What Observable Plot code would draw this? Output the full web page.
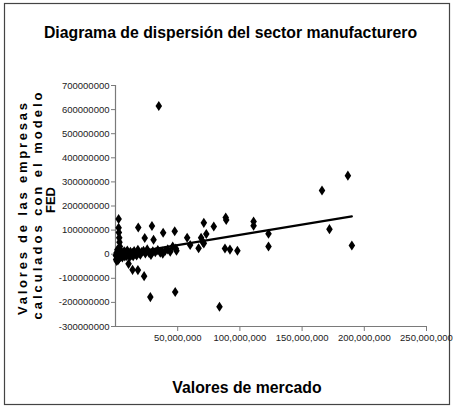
<!DOCTYPE html>
<html>
<head>
<meta charset="utf-8">
<script src="https://cdn.jsdelivr.net/npm/d3@7"></script>
<script src="https://cdn.jsdelivr.net/npm/@observablehq/plot@0.6"></script>
<style>
  html, body { margin: 0; padding: 0; background: white; }
</style>
</head>
<body>
<div id="chart"></div>
<script>
// Market value (x) and FED model value (y), in millions
const marketValues = [
  34.8, 2.5, 2.5, 2.7, 3.0, 3.2, 3.5, 2.6,
  18.3, 23.5, 29.3, 30.6, 38.3, 37.5, 38.0, 47.6, 48.5, 49.0, 57.6, 60.0,
  66.8, 68.8, 70.2, 71.0, 71.0, 73.0, 79.0, 88.0, 88.6, 89.0, 92.0, 98.0,
  111.0, 111.0, 123.0, 123.0, 166.0, 172.0, 186.8, 190.0,
  10.5, 13.7, 18.0, 23.0, 28.0, 48.0, 83.6,
  0.3, 0.5, 0.8, 1.0, 1.2, 1.5, 1.8, 2.0, 2.2, 2.5, 3.0, 3.3, 3.6, 4.0, 4.4, 4.8,
  5.2, 5.5, 6.0, 6.5, 7.0, 7.5, 8.0, 8.5, 9.0, 9.5, 10.0, 10.8, 11.5, 12.0, 12.8,
  13.5, 14.2, 15.0, 16.0, 17.0, 18.0, 19.0, 20.0, 21.0, 22.5, 24.0, 25.5, 27.0,
  28.5, 30.0, 32.0, 34.0, 36.0, 40.0, 42.0, 44.0, 46.0
];
const fedValues = [
  615, 146, 110, 90, 68, 50, 32, 21,
  111, 67, 117, 60, 89, 11, 2, 95, 24, 14, 68, 38,
  25, 68, 50, 130, 45, 84, 115, 24, 152, 142, 19, 14,
  136, 118, 85, 32, 264, 104, 326, 36,
  -40, -65, -66, -91, -178, -157, -218,
  -5, -22, 5, -28, 0, 18, -8, -25, 3, -12, -18, 8, -3, -10, 14, -6,
  2, -14, 6, -4, 12, -9, 0, 9, -7, 15, -2, 4, -11, 10, -3,
  6, -8, 13, 1, -5, 18, 4, -2, 9, 14, 3, 20, 5,
  -3, 12, 8, 17, 6, 14, 20, 10, 32
];
// Linear trend line, millions
const trendX = [0, 190];
const trendY = [-5, 157];

const yTicks = [-300, -200, -100, 0, 100, 200, 300, 400, 500, 600, 700].map(v => v * 1e6);
const xTicks = [50, 100, 150, 200, 250].map(v => v * 1e6);

const titleText = "Diagrama de dispersión del sector manufacturero";
const xLabel = "Valores de mercado";
const yLabelLines = ["Valores de las empresas", "calculados con el modelo", "FED"];

const points = marketValues.map((m, i) => ({x: m * 1e6, y: fedValues[i] * 1e6}));
const trend = trendX.map((m, i) => ({x: m * 1e6, y: trendY[i] * 1e6}));

const tallDiamond = {
  draw(context, size) {
    const r = Math.sqrt(size / Math.PI);
    const w = r * 0.78, h = r * 1.2;
    context.moveTo(0, -h);
    context.lineTo(w, 0);
    context.lineTo(0, h);
    context.lineTo(-w, 0);
    context.closePath();
  }
};

const fmtComma = d3.format(",");
const font = "'Liberation Sans', Arial, sans-serif";

const chart = Plot.plot({
  width: 455,
  height: 409,
  marginLeft: 115,
  marginRight: 29,
  marginTop: 85,
  marginBottom: 83,
  x: {domain: [0, 250e6]},
  y: {domain: [-300e6, 700e6]},
  style: {fontFamily: font, fontSize: "9.5px", background: "white", color: "#222"},
  marks: [
    Plot.ruleY([-300e6], {stroke: "#7a7a7a", strokeWidth: 1.2}),
    Plot.ruleX([0], {stroke: "#7a7a7a", strokeWidth: 1.2}),
    Plot.axisY({ticks: yTicks, tickSize: 4, tickPadding: 2, tickFormat: d => String(d), label: null, stroke: "#7a7a7a", fill: "#222"}),
    Plot.axisX({ticks: xTicks, tickSize: 5, tickPadding: 3, tickFormat: d => fmtComma(d), label: null, stroke: "#7a7a7a", fill: "#222"}),
    Plot.line(trend, {x: "x", y: "y", stroke: "black", strokeWidth: 2.2}),
    Plot.dot(points, {x: "x", y: "y", symbol: tallDiamond, r: 4.2, fill: "black", stroke: "none"})
  ]
});

const svg = d3.select(chart);
svg.insert("rect", ":first-child")
  .attr("x", 4.5).attr("y", 3.5).attr("width", 445).attr("height", 401)
  .attr("fill", "white").attr("stroke", "#444").attr("stroke-width", 1.2);

svg.append("text")
  .attr("x", 230.5).attr("y", 37.5)
  .attr("text-anchor", "middle")
  .style("font", `bold 15.8px ${font}`)
  .attr("fill", "black")
  .text(titleText);

svg.append("text")
  .attr("x", 247).attr("y", 392.5)
  .attr("text-anchor", "middle")
  .style("font", `bold 15.8px ${font}`)
  .attr("fill", "black")
  .text(xLabel);

const yl = [
  {x: 27, y: 209, len: 212},
  {x: 42, y: 206, len: 227},
  {x: 55, y: 200, len: 26}
];
yLabelLines.forEach((t, i) => {
  svg.append("text")
    .attr("transform", `translate(${yl[i].x},${yl[i].y}) rotate(-90)`)
    .attr("text-anchor", "middle")
    .attr("textLength", yl[i].len)
    .attr("lengthAdjust", "spacing")
    .style("font-family", font)
    .style("font-weight", "bold")
    .style("font-size", "13px")
    .attr("fill", "black")
    .text(t);
});

document.getElementById("chart").appendChild(chart);
</script>
</body>
</html>
